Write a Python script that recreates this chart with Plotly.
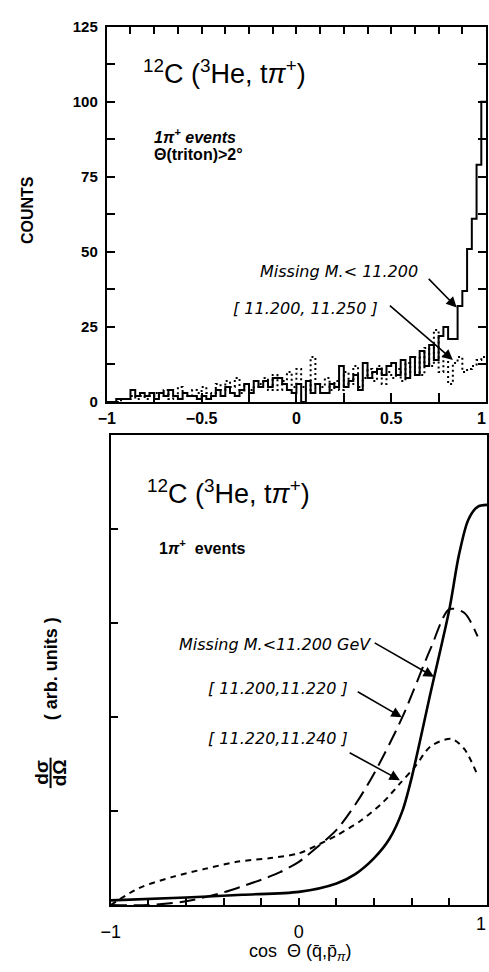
import numpy as np
import plotly.graph_objects as go

W, H = 489, 972

# ---------------- top panel: event counts per cos(theta) bin ----------------
bin_width = 0.025
bin_lo = np.round(np.arange(-1.0, 1.0, bin_width), 4)

# Missing M. < 11.200 (solid histogram)
counts_low = [0, 0, 1, 1, 1, 4, 2, 3, 2, 3, 1, 3, 2, 4, 2, 1, 3, 2, 2, 1,
              2, 1, 2, 4, 2, 5, 3, 2, 4, 6, 3, 7, 5, 7, 5, 8, 8, 6, 4, 3,
              6, 0, 7, 3, 6, 3, 3, 6, 5, 12, 5, 7, 9, 4, 13, 8, 10, 11, 9, 12,
              13, 9, 14, 8, 15, 9, 17, 12, 19, 14, 22, 25, 21, 21, 32, 37, 51, 61, 79, 100]

# [11.200, 11.250] (dotted histogram)
counts_mid = [0, 0, 0, 1, 1, 2, 1, 2, 1, 2, 3, 2, 4, 1, 2, 5, 3, 2, 4, 3,
              5, 3, 2, 6, 4, 7, 5, 8, 3, 6, 4, 5, 6, 8, 4, 9, 4, 7, 10, 5,
              11, 5, 4, 15, 6, 5, 8, 4, 7, 4, 10, 6, 12, 5, 8, 11, 7, 12, 6, 10,
              8, 11, 7, 13, 10, 15, 9, 18, 12, 24, 10, 16, 6, 13, 15, 10, 11, 12, 14, 15]

# ---------------- bottom panel: d sigma / d Omega curves ----------------
cos_solid = [-1.0, -0.6, -0.3, 0.0, 0.2, 0.3, 0.4, 0.48, 0.55, 0.6, 0.7, 0.8, 0.85, 0.9, 0.95, 1.0]
xs_solid = [0.05, 0.08, 0.11, 0.14, 0.23, 0.33, 0.5, 0.7, 1.0, 1.36, 2.26, 3.15, 3.72, 4.1, 4.24, 4.26]

cos_long = [-1.0, -0.8, -0.6, -0.4, -0.3, -0.2, -0.1, 0.0, 0.1, 0.2, 0.3, 0.4, 0.55, 0.7, 0.8, 0.88, 0.95]
xs_long = [0.0, 0.0, 0.04, 0.135, 0.2, 0.27, 0.35, 0.46, 0.62, 0.8, 1.07, 1.4, 2.0, 2.73, 3.15, 3.11, 2.86]

cos_short = [-1.0, -0.85, -0.67, -0.5, -0.33, -0.15, 0.0, 0.1, 0.2, 0.33, 0.45, 0.54, 0.62, 0.7, 0.81, 0.88, 0.95]
xs_short = [0.0, 0.18, 0.30, 0.385, 0.46, 0.5, 0.55, 0.64, 0.74, 0.9, 1.1, 1.3, 1.48, 1.69, 1.77, 1.66, 1.38]

# tick labels (the "1" at the right edge is drawn as a right-aligned note)
top_xt = [-1, -0.5, 0, 0.5]
top_xl = ["\u22121", "\u22120.5", "0", "0.5"]
top_yt = [0, 25, 50, 75, 100, 125]
top_yl = ["0", "25", "50", "75", "100", "125"]
bot_xt = [-1, 0]
bot_xl = ["\u22121", "0"]
edge_label = "1"


def px(x):
    return x / W


def py(y):
    return 1 - y / H


def step_outline(lo, counts):
    xs = [-1.0] + list(lo) + [1.0]
    ys = [0] + list(counts) + [counts[-1]]
    return xs, ys


fig = go.Figure()

sx, sy = step_outline(bin_lo, counts_low)
fig.add_trace(go.Scatter(x=sx, y=sy, mode="lines", line=dict(color="black", width=2, shape="hv"),
                         xaxis="x", yaxis="y", showlegend=False))
dx, dy = step_outline(bin_lo, counts_mid)
fig.add_trace(go.Scatter(x=dx, y=dy, mode="lines",
                         line=dict(color="black", width=2, shape="hv", dash="2px,3px"),
                         xaxis="x", yaxis="y", showlegend=False))

fig.add_trace(go.Scatter(x=cos_solid, y=xs_solid, mode="lines",
                         line=dict(color="black", width=2.6, shape="spline", smoothing=0.8),
                         xaxis="x2", yaxis="y2", showlegend=False))
fig.add_trace(go.Scatter(x=cos_long, y=xs_long, mode="lines",
                         line=dict(color="black", width=2, shape="spline", smoothing=0.8, dash="16px,7px"),
                         xaxis="x2", yaxis="y2", showlegend=False))
fig.add_trace(go.Scatter(x=cos_short, y=xs_short, mode="lines",
                         line=dict(color="black", width=2, shape="spline", smoothing=0.8, dash="6px,5px"),
                         xaxis="x2", yaxis="y2", showlegend=False))

# invisible trace so the top tick axis is drawn
fig.add_trace(go.Scatter(x=[-1, 1], y=[0, 0], mode="lines", line=dict(width=0),
                         xaxis="x3", yaxis="y", showlegend=False, hoverinfo="skip"))

TF = "Liberation Sans"
IF = "DejaVu Sans"

axis_common = dict(showgrid=False, zeroline=False, showline=True, linecolor="black",
                   linewidth=2, ticks="inside", tickcolor="black")

fig.update_layout(
    width=W, height=H, margin=dict(l=0, r=0, t=0, b=0),
    paper_bgcolor="white", plot_bgcolor="white",
    xaxis=dict(domain=[px(99), px(487)], anchor="y", range=[-1, 1], tickvals=top_xt, ticktext=top_xl,
               ticklen=9, tickwidth=2, mirror=True, ticklabelstandoff=1,
               minor=dict(dtick=0.25, tick0=-1, ticks="inside", ticklen=9, tickwidth=2, tickcolor="black"),
               tickfont=dict(family=TF, size=16, color="black", weight=700), **axis_common),
    xaxis3=dict(domain=[px(99), px(487)], anchor="y", overlaying="x", side="top", range=[-1, 1],
                dtick=0.125, tick0=-1, ticks="inside", ticklen=7, tickwidth=2, tickcolor="black",
                showticklabels=False, showgrid=False, zeroline=False, showline=False),
    yaxis=dict(domain=[py(400), py(18)], anchor="x", range=[0, 125], tickvals=top_yt, ticktext=top_yl,
               ticklen=8, tickwidth=2, mirror="ticks", ticklabelstandoff=4,
               minor=dict(dtick=12.5, tick0=0, ticks="inside", ticklen=8, tickwidth=2, tickcolor="black"),
               tickfont=dict(family=TF, size=15, color="black", weight=700), **axis_common),
    xaxis2=dict(domain=[px(103), px(488)], anchor="y2", range=[-1, 1], tickvals=bot_xt, ticktext=bot_xl,
                ticklen=7, tickwidth=1.5, mirror=True, ticklabelstandoff=9,
                minor=dict(dtick=0.2, tick0=-1, ticks="inside", ticklen=7, tickwidth=1.5, tickcolor="black"),
                tickfont=dict(family=TF, size=18, color="black"), **axis_common),
    yaxis2=dict(domain=[py(912), py(434)], anchor="x2", range=[0, 5], tickvals=[1, 2, 3, 4],
                showticklabels=False, ticklen=7, tickwidth=1.5, mirror=True, **axis_common),
)

reaction = "<sup>12</sup>C (<sup>3</sup>He, t<i>\u03c0</i><sup>+</sup>)"

ann = []


def text(x, y, s, size, family=TF, weight=400, angle=0, italic=False, xanchor="left"):
    ann.append(dict(x=px(x), y=py(y), xref="paper", yref="paper", text=s, showarrow=False,
                    xanchor=xanchor, yanchor="middle", textangle=angle,
                    font=dict(family=family, size=size, color="black", weight=weight,
                              style="italic" if italic else "normal")))


def arrow(xr, yr, tail, tip):
    ann.append(dict(x=tip[0], y=tip[1], ax=tail[0], ay=tail[1], xref=xr, yref=yr, axref=xr, ayref=yr,
                    text="", showarrow=True, arrowhead=2, arrowsize=1.3, arrowwidth=1.6,
                    arrowcolor="black", standoff=0))


# right-edge axis labels
text(489, 417, edge_label, 16, weight=700, xanchor="right")
text(489, 931, edge_label, 18, xanchor="right")

# top panel texts
text(134, 64, reaction, 27)
text(145, 129, "1<i>\u03c0</i><sup>+</sup> events", 16, weight=700, italic=True)
text(145, 148, "\u0398(triton)>2\u00b0", 16, weight=700)
text(254, 267, "Missing M.< 11.200", 16, family=IF, italic=True)
text(226, 305, "[ 11.200, 11.250 ]", 16, family=IF, italic=True)
text(18, 205, "COUNTS", 16, weight=700, angle=-90, xanchor="center")
arrow("x", "y", (0.69, 41.5), (0.845, 31.5))
arrow("x", "y", (0.485, 32.5), (0.825, 14))

# bottom panel texts
text(138, 492, reaction, 27)
text(150, 548, "1<i>\u03c0</i><sup>+</sup>  events", 16, weight=700)
text(171, 647, "Missing M.<11.200 GeV", 16, family=IF, italic=True)
text(201, 692, "[ 11.200,11.220 ]", 16, family=IF, italic=True)
text(201, 742, "[ 11.220,11.240 ]", 16, family=IF, italic=True)
arrow("x2", "y2", (0.395, 2.8), (0.718, 2.43))
arrow("x2", "y2", (0.305, 2.28), (0.547, 2.0))
arrow("x2", "y2", (0.262, 1.63), (0.537, 1.33))

# y title: d sigma / d Omega (arb. units)
text(32, 777, "d\u03c3", 19, weight=700, angle=-90, xanchor="center")
text(51, 777, "d\u03a9", 19, weight=700, angle=-90, xanchor="center")
text(42, 672, "( arb. units )", 18, weight=700, angle=-90, xanchor="center")
text(297, 960, "cos  \u0398 (q\u0304,p\u0304<sub><i>\u03c0</i></sub>)", 18, xanchor="center")

fig.update_layout(annotations=ann,
                  shapes=[dict(type="line", xref="paper", yref="paper",
                               x0=px(41.5), x1=px(41.5), y0=py(762), y1=py(793),
                               line=dict(color="black", width=2))])

fig.write_html("out.html")
